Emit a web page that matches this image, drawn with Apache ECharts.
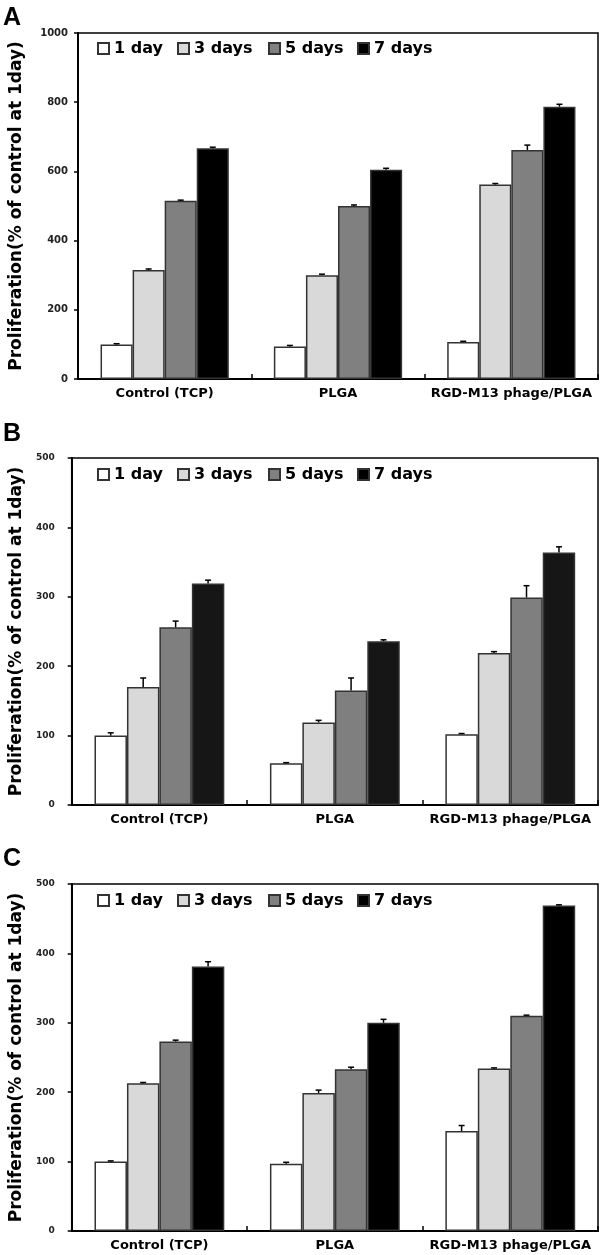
<!DOCTYPE html>
<html>
<head>
<meta charset="utf-8">
<script src="https://cdn.jsdelivr.net/npm/echarts@6/dist/echarts.min.js"></script>
<style>
html,body{margin:0;padding:0;background:#fff;}
#chart{width:600px;height:1255px;}
</style>
</head>
<body>
<div id="chart"></div>
<script>
// ---- data ----
const categories = ['Control (TCP)', 'PLGA', 'RGD-M13 phage/PLGA'];
const days = ['1 day', '3 days', '5 days', '7 days'];
const panelLabels = ['A', 'B', 'C'];
const yMax = [1000, 500, 500];
const yInterval = [200, 100, 100];
const yTitle = 'Proliferation(% of control at 1day)';

// values per day (rows: 1,3,5,7 days; columns: categories)
const valuesA = [
  [100, 94, 107],
  [315, 300, 562],
  [515, 500, 662],
  [667, 605, 787]
];
const errorsA = [
  [2, 3, 2],
  [3, 3, 3],
  [2, 3, 14],
  [3, 4, 7]
];
const valuesB = [
  [100, 60, 102],
  [170, 119, 219],
  [256, 165, 299],
  [319, 236, 364]
];
const errorsB = [
  [4, 1, 1],
  [13, 3, 2],
  [9, 18, 17],
  [5, 2, 8]
];
const valuesC = [
  [100, 97, 144],
  [213, 199, 234],
  [273, 233, 310],
  [381, 300, 469]
];
const errorsC = [
  [1, 2, 8],
  [1, 4, 1],
  [2, 3, 1],
  [7, 5, 1]
];

// ---- styling / layout ----
const allValues = [valuesA, valuesB, valuesC];
const allErrors = [errorsA, errorsB, errorsC];
const fills = [
  ['#ffffff', '#d9d9d9', '#808080', '#000000'],
  ['#ffffff', '#d9d9d9', '#7f7f7f', '#161616'],
  ['#ffffff', '#d9d9d9', '#808080', '#000000']
];
const grids = [
  {left: 77, top: 33, right: 2, height: 346},
  {left: 70, top: 458, right: 2, height: 347},
  {left: 70, top: 884, right: 2, height: 347}
];
const tickFont = [10, 9, 9];
const tickMargin = [10, 17, 17];
const legendTops = [40, 466, 892];
const legendLefts = [97, 177, 268, 357];
const labelTops = [6, 422, 847];
const GAP = 0.26;
const FONT = 'DejaVu Sans';

const option = {
  animation: false,
  backgroundColor: '#ffffff',
  grid: [],
  xAxis: [],
  yAxis: [],
  legend: [],
  series: [],
  graphic: []
};

for (let p = 0; p < 3; p++) {
  option.grid.push(Object.assign({show: true, borderColor: '#000', borderWidth: 1.5, backgroundColor: 'transparent'}, grids[p]));
  option.xAxis.push({
    type: 'category', gridIndex: p, data: categories,
    axisLine: {lineStyle: {color: '#000', width: 2}},
    axisTick: {show: true, inside: true, length: 5, lineStyle: {color: '#000', width: 1.5}},
    axisLabel: {interval: 0, hideOverlap: false, color: '#000', fontFamily: FONT, fontWeight: 'bold', fontSize: 13, margin: 8}
  });
  option.yAxis.push({
    type: 'value', gridIndex: p, min: 0, max: yMax[p], interval: yInterval[p],
    splitLine: {show: false},
    axisLine: {show: true, lineStyle: {color: '#000', width: 2}},
    axisTick: {show: true, length: 4, lineStyle: {color: '#000', width: 1.5}},
    axisLabel: {color: '#222', fontFamily: FONT, fontWeight: 'bold', fontSize: tickFont[p], margin: tickMargin[p],
      formatter: function (v) { return String(v); }},
    name: yTitle, nameLocation: 'middle', nameRotate: 90,
    nameGap: grids[p].left - 24,
    nameTextStyle: {color: '#000', fontFamily: FONT, fontWeight: 'bold', fontSize: 17}
  });
  for (let d = 0; d < 4; d++) {
    option.series.push({
      type: 'bar', name: days[d], xAxisIndex: p, yAxisIndex: p,
      data: allValues[p][d],
      barGap: '0%', barCategoryGap: (GAP * 100) + '%',
      itemStyle: {color: fills[p][d], borderColor: '#333', borderWidth: 1.5},
      z: 2
    });
    const dayIdx = d;
    option.series.push({
      type: 'custom', xAxisIndex: p, yAxisIndex: p, z: 5,
      encode: {x: 0, y: 1},
      data: allValues[p][d].map((v, i) => [i, v, allErrors[p][d][i]]),
      renderItem: function (params, api) {
        const ci = api.value(0), v = api.value(1), e = api.value(2);
        const band = api.size([1, 0])[0];
        const groupW = band * (1 - GAP);
        const bw = groupW / 4;
        const base = api.coord([ci, v]);
        const top = api.coord([ci, v + e]);
        const x = base[0] - groupW / 2 + bw * (dayIdx + 0.5);
        return {
          type: 'group',
          children: [
            {type: 'line', shape: {x1: x, y1: base[1], x2: x, y2: top[1]}, style: {stroke: '#000', lineWidth: 1.5}},
            {type: 'line', shape: {x1: x - 3, y1: top[1], x2: x + 3, y2: top[1]}, style: {stroke: '#000', lineWidth: 1.5}}
          ]
        };
      }
    });
    option.legend.push({
      data: [days[d]], left: legendLefts[d], top: legendTops[p], padding: 0,
      itemWidth: 11, itemHeight: 11, icon: 'rect', selectedMode: false,
      textStyle: {color: '#000', fontFamily: FONT, fontWeight: 'bold', fontSize: 16, lineHeight: 17}
    });
  }
  option.graphic.push({
    type: 'text', left: 3, top: labelTops[p],
    style: {text: panelLabels[p], fill: '#000', font: 'bold 25px "Liberation Sans", Arial'}
  });
}

const chart = echarts.init(document.getElementById('chart'), null, {renderer: 'canvas'});
chart.setOption(option);
</script>
</body>
</html>
